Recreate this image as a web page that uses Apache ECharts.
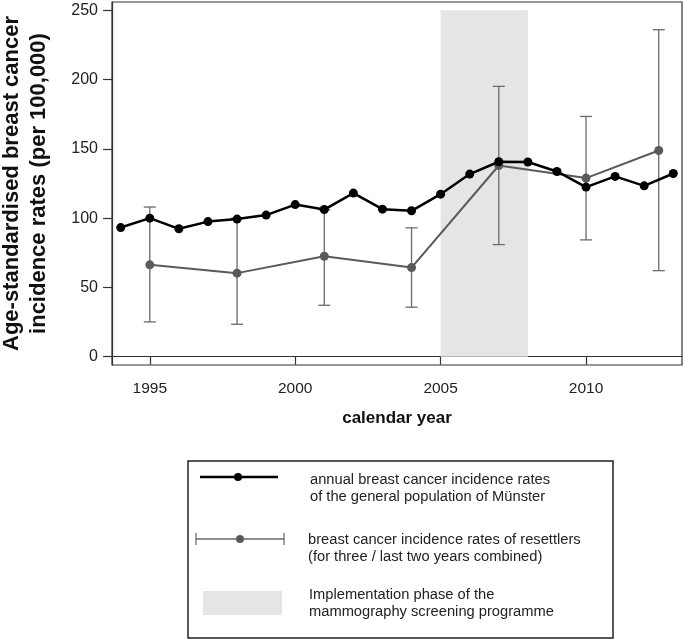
<!DOCTYPE html>
<html><head><meta charset="utf-8">
<script src="https://cdn.jsdelivr.net/npm/echarts@6/dist/echarts.min.js"></script>
<style>html,body{margin:0;padding:0;background:#fff}#c{width:685px;height:640px}</style>
</head><body><div id="c"></div>
<script>
// General population annual rates
const years = [1994,1995,1996,1997,1998,1999,2000,2001,2002,2003,2004,2005,2006,2007,2008,2009,2010,2011,2012,2013];
const generalRates = [93.2,100,92.3,97.5,99.3,102.2,109.8,106.2,118.1,106.5,105.3,117.3,131.8,140.7,140.5,133.7,122.4,130.1,123.3,132.2];
// Resettlers (combined periods) with confidence intervals
const resettlerYears = [1995,1998,2001,2004,2007,2010,2012.5];
const resettlerRates = [66.3,60.3,72.5,64.3,138,128.9,148.8];
const resettlerLower = [25.1,23.4,37.1,35.7,80.9,84.3,62.1];
const resettlerUpper = [108,100,106,93,195.1,173.4,236];
// Implementation phase
const phaseStart = 2005, phaseEnd = 2008, phaseTop = 250;
const xTicks = [1995,2000,2005,2010];
const yTicks = [0,50,100,150,200,250];

const FONT = '"Liberation Sans", Arial, sans-serif';
const chart = echarts.init(document.getElementById('c'));

const errData = resettlerYears.map((x,i)=>[x,resettlerLower[i],resettlerUpper[i]]);

chart.setOption({
  animation:false,
  grid:{left:112,right:3,top:2,bottom:275,containLabel:false,outerBoundsMode:'none',show:true,borderColor:'#333',borderWidth:1.2,backgroundColor:'transparent'},
  xAxis:{type:'value',min:1993.7,max:2013.3,
    axisLine:{show:true,lineStyle:{color:'#333',width:1.2}},
    axisTick:{show:true,customValues:xTicks,length:8,lineStyle:{color:'#333',width:1.2}},
    axisLabel:{customValues:xTicks,margin:16,fontSize:15.5,color:'#222',fontFamily:FONT,formatter:v=>String(v)},
    splitLine:{show:false},
    name:'calendar year',nameLocation:'middle',nameGap:45,
    nameTextStyle:{fontSize:17,fontWeight:'bold',color:'#111',fontFamily:FONT}},
  yAxis:{type:'value',min:-6,max:256,
    axisLine:{show:true,lineStyle:{color:'#333',width:1.2}},
    axisTick:{show:true,customValues:yTicks,length:9,lineStyle:{color:'#333',width:1.2}},
    axisLabel:{customValues:yTicks,margin:14,fontSize:16,color:'#222',fontFamily:FONT,formatter:v=>String(v)},
    splitLine:{show:false},
    name:'Age-standardised breast cancer\nincidence rates (per 100,000)',
    nameLocation:'middle',nameGap:60,nameRotate:90,
    nameTextStyle:{fontSize:22,fontWeight:'bold',color:'#111',fontFamily:FONT,lineHeight:27}},
  series:[
    {type:'line',data:[],silent:true,
      markArea:{silent:true,itemStyle:{color:'#e5e5e5'},
        data:[[{xAxis:phaseStart,yAxis:0},{xAxis:phaseEnd,yAxis:phaseTop}]]}},
    {type:'custom',z:3,data:errData,
      renderItem:function(params,api){
        const x=api.value(0);
        const lo=api.coord([x,api.value(1)]);
        const hi=api.coord([x,api.value(2)]);
        const cw=6;
        const st={stroke:'#6b6b6b',lineWidth:1.3};
        return {type:'group',children:[
          {type:'line',shape:{x1:lo[0],y1:lo[1],x2:hi[0],y2:hi[1]},style:st},
          {type:'line',shape:{x1:lo[0]-cw,y1:lo[1],x2:lo[0]+cw,y2:lo[1]},style:st},
          {type:'line',shape:{x1:hi[0]-cw,y1:hi[1],x2:hi[0]+cw,y2:hi[1]},style:st}
        ]};
      }},
    {type:'line',z:4,data:resettlerYears.map((x,i)=>[x,resettlerRates[i]]),
      symbol:'circle',symbolSize:9,lineStyle:{color:'#5a5a5a',width:2},itemStyle:{color:'#5a5a5a'}},
    {type:'line',z:5,data:years.map((x,i)=>[x,generalRates[i]]),
      symbol:'circle',symbolSize:9,lineStyle:{color:'#000',width:2.5},itemStyle:{color:'#000'}}
  ],
  graphic:[
    {type:'rect',shape:{x:188,y:461,width:425,height:177},style:{fill:'#fff',stroke:'#222',lineWidth:1.5}},
    {type:'line',shape:{x1:200,y1:477,x2:278,y2:477},style:{stroke:'#000',lineWidth:2.5}},
    {type:'circle',shape:{cx:238,cy:477,r:4},style:{fill:'#000'}},
    {type:'text',x:310,y:471,style:{text:'annual breast cancer incidence rates\nof the general population of Münster',font:'14.7px '+FONT,fill:'#222',lineHeight:17,verticalAlign:'top'}},
    {type:'line',shape:{x1:196,y1:539,x2:284,y2:539},style:{stroke:'#6b6b6b',lineWidth:1.3}},
    {type:'line',shape:{x1:196,y1:533,x2:196,y2:545},style:{stroke:'#6b6b6b',lineWidth:1.3}},
    {type:'line',shape:{x1:284,y1:533,x2:284,y2:545},style:{stroke:'#6b6b6b',lineWidth:1.3}},
    {type:'circle',shape:{cx:240,cy:539,r:4},style:{fill:'#5a5a5a'}},
    {type:'text',x:308,y:531.5,style:{text:'breast cancer incidence rates of resettlers\n(for three / last two years combined)',font:'14.7px '+FONT,fill:'#222',lineHeight:17,verticalAlign:'top'}},
    {type:'rect',shape:{x:203,y:591,width:79,height:24},style:{fill:'#e5e5e5'}},
    {type:'text',x:309,y:586.5,style:{text:'Implementation phase of the\nmammography screening programme',font:'14.7px '+FONT,fill:'#222',lineHeight:17,verticalAlign:'top'}}
  ]
});
</script></body></html>
